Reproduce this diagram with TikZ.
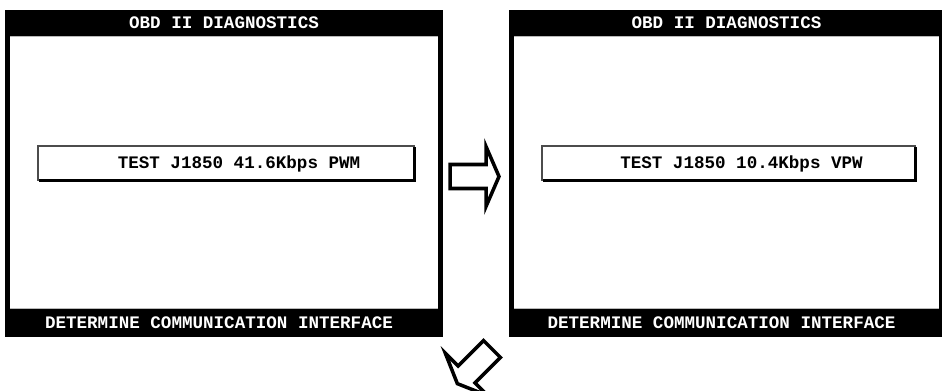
\documentclass[tikz,border=0pt]{standalone}
\usepackage{fontspec}
\newfontfamily\lcdfont{Liberation Mono}
\usepackage{tikz}
\usetikzlibrary{positioning, calc}

% One scan-tool display: name, left x, right x, test label
\newcommand{\obdscreen}[4]{%
    % Outer black frame
    \fill[black] (#2,10) rectangle (#3,337);
    % White display area
    \fill[white] (#2+5,36) rectangle (#3-5,309);
    \draw[gray!55, line width=0.6pt] (#2+5,36.5) -- (#3-5,36.5);
    \draw[gray!55, line width=0.6pt] (#2+5,308.5) -- (#3-5,308.5);
    % Test selection box with shadow
    \draw[black!70, line width=0.6pt] (#2+33,146) rectangle (#3-29,180);
    \draw[black, line width=1.2pt] (#2+34,180.5) -- (#3-28.5,180.5) -- (#3-28.5,147);
    % Texts
    \node[bar_text] (#1-title) at ({(#2+#3)/2},23) {OBD II DIAGNOSTICS};
    \node[box_text] (#1-test) at ({(#2+#3)/2+15},163.5) {#4};
    \node[bar_text] (#1-foot) at ({(#2+#3)/2-5},323) {DETERMINE COMMUNICATION INTERFACE};
}

% Hollow block arrow: name, tail centre, angle
\newcommand{\hollowarrow}[3]{%
    \coordinate (#1) at #2;
    \begin{scope}[shift={#2}, rotate=#3]
        \draw[arrow_style] (0,-12) -- (36,-12) -- (36,-30) -- (49,0)
            -- (36,30) -- (36,12) -- (0,12) -- cycle;
    \end{scope}
}

\begin{document}
\begin{tikzpicture}[
        x=0.02cm, y=-0.02cm,
        bar_text/.style={font=\lcdfont\bfseries\fontsize{10}{12}\selectfont, text=white, inner sep=0pt},
        box_text/.style={font=\lcdfont\bfseries\fontsize{10}{12}\selectfont, text=black, inner sep=0pt},
        arrow_style/.style={draw=black, fill=white, line width=2pt, line join=miter}
    ]
    \useasboundingbox (0,0) rectangle (942,391);

    % =========================================================================
    % 1. DISPLAYS
    % =========================================================================
    \obdscreen{PWM}{5}{443}{TEST J1850 41.6Kbps PWM}
    \obdscreen{VPW}{509}{944}{TEST J1850 10.4Kbps VPW}

    % =========================================================================
    % 2. STEP ARROWS
    % =========================================================================
    \hollowarrow{next}{(450,176.5)}{0}
    \hollowarrow{down}{(492,349)}{-135}

\end{tikzpicture}
\end{document}
